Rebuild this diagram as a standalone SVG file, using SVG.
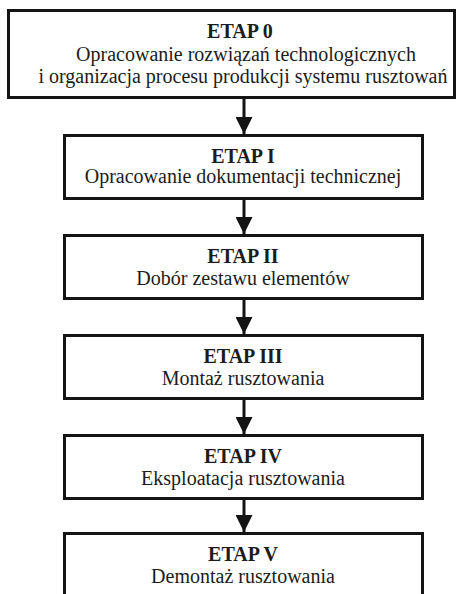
<svg xmlns="http://www.w3.org/2000/svg" width="459" height="594" viewBox="0 0 459 594">
  <style>
    .box { fill: #ffffff; stroke: #141414; stroke-width: 3; }
    .t { font-family: "Liberation Serif", "Times New Roman", serif; font-size: 20px; fill: #1c1c1c; text-anchor: middle; }
    .b { font-weight: bold; }
    .conn { stroke: #141414; stroke-width: 3; fill: none; }
  </style>
  <defs>
    <marker id="ah" viewBox="0 0 17 17" refX="17" refY="8.5" markerWidth="17" markerHeight="17" markerUnits="userSpaceOnUse" orient="auto">
      <path d="M0,0 L17,8.5 L0,17 Z" fill="#141414"/>
    </marker>
  </defs>
  <rect width="459" height="594" fill="#ffffff"/>
  <g id="connectors">
    <line class="conn" x1="244" y1="98" x2="244" y2="134" marker-end="url(#ah)"/>
    <line class="conn" x1="244" y1="198" x2="244" y2="234" marker-end="url(#ah)"/>
    <line class="conn" x1="244" y1="298" x2="244" y2="334" marker-end="url(#ah)"/>
    <line class="conn" x1="244" y1="398" x2="244" y2="434" marker-end="url(#ah)"/>
    <line class="conn" x1="244" y1="498" x2="244" y2="532" marker-end="url(#ah)"/>
  </g>
  <g id="etap0">
    <rect class="box" x="8.5" y="10.5" width="446" height="87"/>
    <text class="t b" x="240" y="38">ETAP 0</text>
    <text class="t" x="246" y="61">Opracowanie rozwiązań technologicznych</text>
    <text class="t" x="243" y="83">i organizacja procesu produkcji systemu rusztowań</text>
  </g>
  <g id="etap1">
    <rect class="box" x="64.5" y="135.5" width="358" height="63"/>
    <text class="t b" x="243" y="163">ETAP I</text>
    <text class="t" x="243" y="183">Opracowanie dokumentacji technicznej</text>
  </g>
  <g id="etap2">
    <rect class="box" x="64.5" y="235.5" width="358" height="63"/>
    <text class="t b" x="243" y="263">ETAP II</text>
    <text class="t" x="243" y="285">Dobór zestawu elementów</text>
  </g>
  <g id="etap3">
    <rect class="box" x="64.5" y="335.5" width="358" height="63"/>
    <text class="t b" x="243" y="363">ETAP III</text>
    <text class="t" x="243" y="385">Montaż rusztowania</text>
  </g>
  <g id="etap4">
    <rect class="box" x="64.5" y="435.5" width="358" height="63"/>
    <text class="t b" x="243" y="463">ETAP IV</text>
    <text class="t" x="243" y="485">Eksploatacja rusztowania</text>
  </g>
  <g id="etap5">
    <rect class="box" x="64.5" y="533.5" width="358" height="80"/>
    <text class="t b" x="243" y="561">ETAP V</text>
    <text class="t" x="243" y="583">Demontaż rusztowania</text>
  </g>
</svg>
